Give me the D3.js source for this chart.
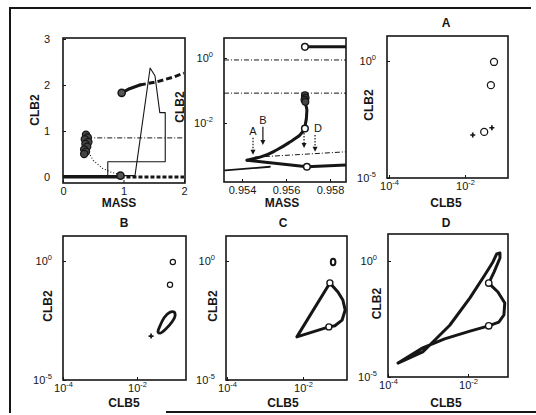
<!DOCTYPE html>
<html>
<head>
<meta charset="utf-8">
<script src="https://cdn.jsdelivr.net/npm/d3@7"></script>
<style>
  body { margin: 0; background: #fff; }
  svg { display: block; font-family: "Liberation Sans", Arial, sans-serif; }
</style>
</head>
<body>
<svg id="chart" width="536" height="415"></svg>
<script>
// ---- data ----
// top-left: CLB2 vs MASS (linear)
const massTicks = [0, 1, 2];
const clb2Ticks = [0, 1, 2, 3];
const p1Stable = [[0.97, 1.83], [1.1, 1.92], [1.27, 2.0]];
const p1Unstable = [[1.27, 2.0], [1.55, 2.07], [1.82, 2.17], [2.0, 2.26]];
const p1Orbit = [[0, 0.03], [1.19, 0.03], [1.44, 2.37], [1.52, 2.2], [1.6, 1.4], [1.69, 1.4], [1.69, 0.33], [0.74, 0.33], [0.74, 0.03]];
const p1Middle = [[0.4, 0.85], [2.0, 0.85]];
const p1Dotted = [[0.4, 0.59], [0.5, 0.36], [0.65, 0.19], [0.8, 0.1], [0.94, 0.06]];
const p1Bottom = [[0, 0.0], [0.95, 0.0]];
const p1BottomDash = [[0.95, 0.0], [2.0, 0.0]];
const p1Cluster = [[0.38, 0.92], [0.41, 0.86], [0.36, 0.82], [0.42, 0.76], [0.37, 0.72], [0.4, 0.66], [0.35, 0.6], [0.38, 0.55], [0.35, 0.5]];
const p1Circles = [[0.97, 1.83], [0.95, 0.03]];

// top-middle: CLB2 (log) vs MASS, zoomed in
const mass2Ticks = [0.954, 0.956, 0.958];
const logTicks2 = [1, 1e-2];
const p2Upper = [[0.95686, 2.2], [0.95873, 2.2]];
const p2Level0 = [[0.95318, 0.87], [0.95873, 0.87]];
const p2Level1 = [[0.95318, 0.083], [0.95873, 0.083]];
const p2Cluster = [[0.95686, 0.072], [0.95689, 0.06], [0.95684, 0.052], [0.95688, 0.045]];
const p2Branch = [[0.95686, 0.042], [0.95695, 0.025], [0.95686, 0.0076], [0.95664, 0.0043], [0.95618, 0.0026], [0.95559, 0.0015], [0.95482, 0.00089], [0.95423, 0.00072]];
const p2Lower = [[0.95423, 0.00072], [0.95695, 0.00045], [0.95873, 0.00051]];
const p2LowerLeft = [[0.95323, 0.00035], [0.95527, 0.00045]];
const p2DashDot = [[0.95459, 0.00089], [0.95873, 0.0013]];
const p2Dotted = [[0.9543, 0.0007], [0.9553, 0.0006]];
const p2Rings = [[0.95686, 2.2], [0.95695, 0.00045], [0.95686, 0.0068]];
const arrowMass = [0.9545, 0.95495, 0.95682, 0.95732];
const arrowFrom = [0.0035, 0.0076, 0.0049, 0.0043];
const arrowTo = [0.00105, 0.0021, 0.0017, 0.0013];
const arrowLabels = ["A", "B", "", "D"];
const arrowDashed = [true, false, true, true];

// phase planes: CLB2 vs CLB5, both log
const clb5Ticks = [1e-4, 1e-2];
const clb2LogTicks = [1, 1e-5];
const aRings = [[0.058, 0.91], [0.048, 0.093], [0.032, 0.00093]];
const aStars = [[0.016, 0.00069], [0.051, 0.0014]];
const bRings = [[0.093, 0.91], [0.078, 0.1]];
const bStars = [[0.024, 0.0007]];
const bLoop = [[0.037, 0.00105], [0.042, 0.0019], [0.054, 0.0041], [0.072, 0.0066], [0.1, 0.0072], [0.107, 0.0049], [0.089, 0.0028], [0.06, 0.0014], [0.042, 0.00093]];
const cSmall = [[0.062, 0.91]];
const cLoop = [[0.051, 0.12], [0.083, 0.05], [0.112, 0.023], [0.129, 0.0087], [0.107, 0.0033], [0.069, 0.0019], [0.048, 0.0017], [0.0069, 0.00065]];
const cRings = [[0.051, 0.12], [0.048, 0.0017]];
const dLoop = [[0.000178, 0.0000398], [0.00074, 0.00012], [0.0035, 0.0017], [0.0112, 0.0257], [0.0263, 0.25], [0.042, 0.91], [0.052, 2.0], [0.063, 2.2], [0.063, 1.35], [0.045, 0.34], [0.033, 0.112], [0.056, 0.046], [0.083, 0.0155], [0.079, 0.0047], [0.059, 0.0023], [0.033, 0.0016], [0.0112, 0.00095], [0.0026, 0.00044], [0.00074, 0.00018]];
const dRings = [[0.033, 0.112], [0.033, 0.0016]];

const ink = "#161616";
const svg = d3.select("#chart");
let clipCount = 0;

// outer frame of the figure
svg.append("path")
  .attr("d", "M10,413V8H531")
  .attr("fill", "none").attr("stroke", ink).attr("stroke-width", 2);
svg.append("line")
  .attr("x1", 166).attr("x2", 536).attr("y1", 412).attr("y2", 412)
  .attr("stroke", ink).attr("stroke-width", 2);

function makePanel(box, x, y) {
  const id = "clip" + (clipCount++);
  svg.append("clipPath").attr("id", id).append("rect")
    .attr("x", box.x0).attr("y", box.y0)
    .attr("width", box.x1 - box.x0).attr("height", box.y1 - box.y0);
  const body = svg.append("g").attr("clip-path", `url(#${id})`);
  return { box, x, y, body };
}

function finishPanel(p) {
  svg.append("rect")
    .attr("x", p.box.x0).attr("y", p.box.y0)
    .attr("width", p.box.x1 - p.box.x0).attr("height", p.box.y1 - p.box.y0)
    .attr("fill", "none").attr("stroke", ink).attr("stroke-width", 1.6);
}

function addLine(p, pts, width, dash, curve) {
  const line = d3.line().x(d => p.x(d[0])).y(d => p.y(d[1])).curve(curve || d3.curveLinear);
  p.body.append("path").datum(pts)
    .attr("d", line)
    .attr("fill", "none")
    .attr("stroke", ink)
    .attr("stroke-width", width)
    .attr("stroke-dasharray", dash || null)
    .attr("stroke-linejoin", "round")
    .attr("stroke-linecap", dash ? "butt" : "round");
}

function addRings(p, pts, r, fill, width) {
  p.body.selectAll(null).data(pts).enter().append("circle")
    .attr("cx", d => p.x(d[0])).attr("cy", d => p.y(d[1]))
    .attr("r", r).attr("fill", fill).attr("stroke", ink).attr("stroke-width", width || 1.3);
}

function addStars(p, pts) {
  p.body.selectAll(null).data(pts).enter().append("path")
    .attr("transform", d => `translate(${p.x(d[0])},${p.y(d[1])})`)
    .attr("d", d3.symbol(d3.symbolCross, 14))
    .attr("fill", ink);
}

function powTen(sel) {
  sel.each(function (d) {
    const t = d3.select(this);
    t.text("10");
    t.append("tspan").attr("dy", -5).attr("font-size", 7.5).text(Math.round(Math.log10(d)));
  });
}

function axes(p, xTicks, yTicks, xLog, yLog) {
  const gx = svg.append("g")
    .attr("transform", `translate(0,${p.box.y1})`)
    .call(d3.axisBottom(p.x).tickValues(xTicks).tickSizeInner(-3).tickSizeOuter(0).tickPadding(4));
  const gy = svg.append("g")
    .attr("transform", `translate(${p.box.x0},0)`)
    .call(d3.axisLeft(p.y).tickValues(yTicks).tickSizeInner(-3).tickSizeOuter(0).tickPadding(13));
  [gx, gy].forEach(g => {
    g.select(".domain").remove();
    g.attr("color", ink).attr("font-family", null).attr("font-size", 11);
  });
  if (xLog) gx.selectAll(".tick text").call(powTen);
  else gx.selectAll(".tick text").text(d => d3.format("~g")(d));
  if (yLog) gy.selectAll(".tick text").call(powTen).attr("dx", 2);
  else gy.selectAll(".tick text").text(d => d3.format("~g")(d));
}

function label(x, y, text, rotate) {
  svg.append("text")
    .attr("transform", `translate(${x},${y})` + (rotate ? " rotate(-90)" : ""))
    .attr("text-anchor", "middle")
    .attr("font-weight", "bold").attr("font-size", 12)
    .attr("fill", ink)
    .text(text);
}

// ---- panel 1 ----
const p1 = makePanel({ x0: 63, x1: 185, y0: 38, y1: 183 },
  d3.scaleLinear().domain([0, 2]).range([63, 184]),
  d3.scaleLinear().domain([0, 3]).range([177, 39]));
addLine(p1, p1Orbit, 1.1);
addLine(p1, p1Middle, 1, "5,2,1,2");
addLine(p1, p1Dotted, 1.1, "1,2");
addLine(p1, p1Bottom, 3);
addLine(p1, p1BottomDash, 3, "4,2");
addLine(p1, p1Stable, 3.2);
addLine(p1, p1Unstable, 3, "6,3");
addRings(p1, p1Cluster, 3.6, "#444", 1.2);
addRings(p1, p1Circles, 3.6, "#555", 1.5);
finishPanel(p1);
axes(p1, massTicks, clb2Ticks, false, false);
label(119, 207, "MASS");
label(39, 110, "CLB2", true);

// ---- panel 2 ----
const p2 = makePanel({ x0: 224, x1: 346, y0: 38, y1: 182 },
  d3.scaleLinear().domain([0.954, 0.958]).range([242, 330]),
  d3.scaleLog().domain([1e-2, 1]).range([123, 58]));
addLine(p2, p2Level0, 1, "5,2,1,2");
addLine(p2, p2Level1, 1, "5,2,1,2");
addLine(p2, p2DashDot, 1, "5,2,1,2");
addLine(p2, p2Dotted, 1, "1,2");
addLine(p2, p2LowerLeft, 1.8);
addLine(p2, p2Upper, 3);
addLine(p2, p2Branch, 3, null, d3.curveMonotoneY);
addLine(p2, p2Lower, 3);
addRings(p2, p2Cluster, 3.4, "#444", 1.2);
addRings(p2, p2Rings, 3.3, "#fff", 1.5);
// arrows marking the masses of panels A-D
arrowMass.forEach((m, i) => {
  const ax = p2.x(m), ya = p2.y(arrowFrom[i]), yb = p2.y(arrowTo[i]);
  svg.append("line").attr("x1", ax).attr("x2", ax).attr("y1", ya).attr("y2", yb - 4)
    .attr("stroke", ink).attr("stroke-width", 1.2)
    .attr("stroke-dasharray", arrowDashed[i] ? "1.5,1.5" : null);
  svg.append("path").attr("d", `M${ax - 2.5},${yb - 5}L${ax + 2.5},${yb - 5}L${ax},${yb}Z`).attr("fill", ink);
  if (arrowLabels[i]) {
    svg.append("text").attr("x", ax + (i === 3 ? 3 : 0)).attr("y", ya - 3)
      .attr("text-anchor", "middle").attr("font-size", 11).attr("fill", ink)
      .text(arrowLabels[i]);
  }
});
finishPanel(p2);
axes(p2, mass2Ticks, logTicks2, false, true);
label(282, 207, "MASS");
label(184, 107, "CLB2", true);

// ---- phase planes ----
function phase(box, xr, yr, title, tx, ty, lx, ly) {
  const p = makePanel(box,
    d3.scaleLog().domain([1e-4, 1e-2]).range(xr),
    d3.scaleLog().domain([1e-5, 1]).range(yr));
  p.title = () => {
    finishPanel(p);
    axes(p, clb5Ticks, clb2LogTicks, true, true);
    svg.append("text").attr("x", tx).attr("y", ty)
      .attr("text-anchor", "middle").attr("font-weight", "bold").attr("font-size", 12)
      .attr("fill", ink).text(title);
    label(tx, ly, "CLB5");
    label(lx, (box.y0 + box.y1) / 2 - 2, "CLB2", true);
  };
  return p;
}

const pa = phase({ x0: 387, x1: 508, y0: 36, y1: 178 }, [389, 465], [178, 61], "A", 446, 27, 373, 207);
addRings(pa, aRings, 3.5, "#fff", 1.3);
addStars(pa, aStars);
pa.title();

const pb = phase({ x0: 63, x1: 186, y0: 236, y1: 380 }, [63, 137], [380, 261], "B", 124, 227, 52, 407);
addRings(pb, bRings, 2.6, "#fff", 1.2);
addStars(pb, bStars);
addLine(pb, bLoop, 2.8, null, d3.curveCatmullRomClosed);
pb.title();

const pc = phase({ x0: 226, x1: 347, y0: 236, y1: 380 }, [227, 303], [380, 261], "C", 283, 227, 217, 407);
pc.body.selectAll(null).data(cSmall).enter().append("ellipse")
  .attr("cx", d => pc.x(d[0])).attr("cy", d => pc.y(d[1]))
  .attr("rx", 2.3).attr("ry", 3.3).attr("fill", "none").attr("stroke", ink).attr("stroke-width", 2);
addLine(pc, cLoop, 3, null, d3.curveLinearClosed);
addRings(pc, cRings, 3, "#fff", 1.4);
pc.title();

const pd = phase({ x0: 388, x1: 508, y0: 234, y1: 377 }, [388, 468], [377, 261], "D", 446, 227, 381, 407);
addLine(pd, dLoop, 3, null, d3.curveLinearClosed);
addRings(pd, dRings, 3.2, "#fff", 1.4);
pd.title();
</script>
</body>
</html>
